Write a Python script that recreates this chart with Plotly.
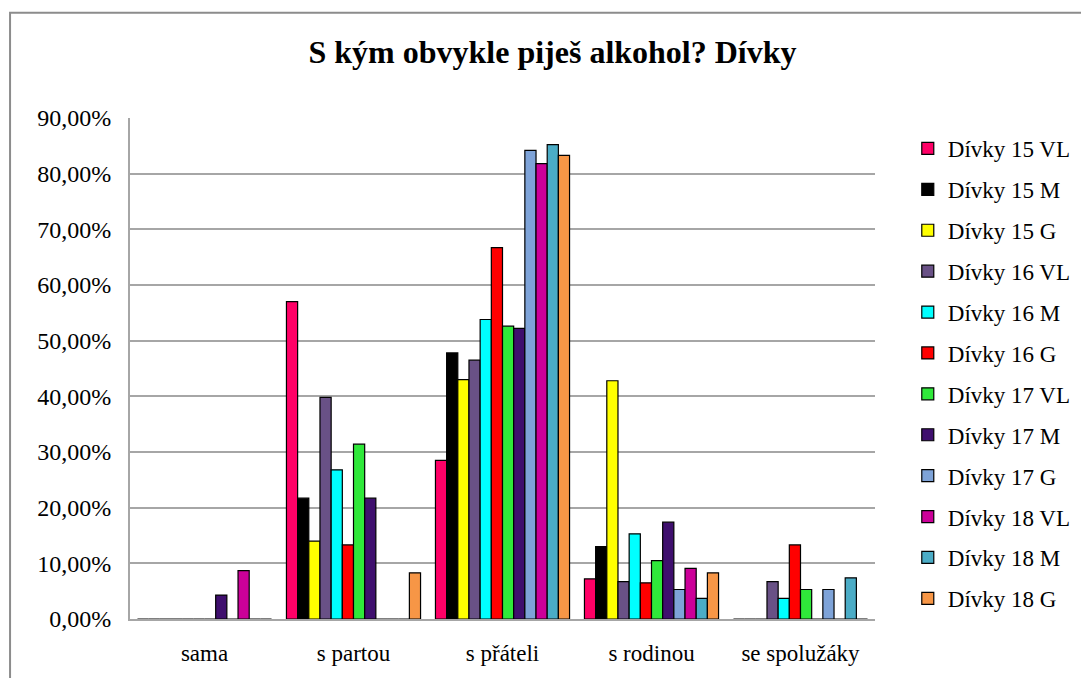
import plotly.graph_objects as go

categories = ["sama", "s partou", "s přáteli", "s rodinou", "se spolužáky"]

series_names = ["Dívky 15 VL", "Dívky 15 M", "Dívky 15 G", "Dívky 16 VL", "Dívky 16 M", "Dívky 16 G",
                "Dívky 17 VL", "Dívky 17 M", "Dívky 17 G", "Dívky 18 VL", "Dívky 18 M", "Dívky 18 G"]

d15_vl = [0.0, 0.570, 0.285, 0.072, 0.0]
d15_m = [0.0, 0.217, 0.478, 0.130, 0.0]
d15_g = [0.0, 0.140, 0.430, 0.428, 0.0]
d16_vl = [0.0, 0.398, 0.465, 0.067, 0.067]
d16_m = [0.0, 0.268, 0.538, 0.153, 0.037]
d16_g = [0.0, 0.133, 0.667, 0.065, 0.133]
d17_vl = [0.0, 0.314, 0.526, 0.105, 0.053]
d17_m = [0.043, 0.217, 0.522, 0.174, 0.0]
d17_g = [0.0, 0.0, 0.842, 0.053, 0.053]
d18_vl = [0.087, 0.0, 0.818, 0.091, 0.0]
d18_m = [0.0, 0.0, 0.852, 0.037, 0.074]
d18_g = [0.0, 0.083, 0.833, 0.083, 0.0]

values = [d15_vl, d15_m, d15_g, d16_vl, d16_m, d16_g, d17_vl, d17_m, d17_g, d18_vl, d18_m, d18_g]

colors = ["#FF0066", "#000000", "#FFFF00", "#695186", "#00FFFF", "#FF0000",
          "#2FE83A", "#3F0F6E", "#7EA3D8", "#CC0099", "#4BACC6", "#F79646"]

y_ticks = [0, 0.1, 0.2, 0.3, 0.4, 0.5, 0.6, 0.7, 0.8, 0.9]

serif = "Liberation Serif, Times New Roman, serif"

fig = go.Figure()
for i, name in enumerate(series_names):
    fig.add_trace(go.Bar(
        x=categories, y=values[i], name=name, legendgroup=name,
        marker=dict(color=colors[i], line=dict(color="#000000", width=1.2)),
    ))

fig.update_layout(
    width=1089, height=678,
    barmode="group", bargap=0.1, bargroupgap=0,
    separators=", ",
    paper_bgcolor="white", plot_bgcolor="white",
    margin=dict(l=122, r=222, t=110, b=67),
    title=dict(text="<b>S kým obvykle piješ alkohol? Dívky</b>", x=0.5, xanchor="center",
               y=0.935, yanchor="middle",
               font=dict(family=serif, size=32, color="#000000")),
    font=dict(family=serif, size=23, color="#000000"),
    legend=dict(x=1.044, xanchor="left", y=0.982, yanchor="top",
                font=dict(family=serif, size=23, color="#000000"),
                tracegroupgap=8, itemwidth=30, maxheight=660, bgcolor="rgba(0,0,0,0)"),
    xaxis=dict(showline=True, linecolor="#A6A6A6", linewidth=2, ticks="",
               ticklabelstandoff=12, tickfont=dict(family=serif, size=23)),
    yaxis=dict(range=[0, 0.9], tickvals=y_ticks, tickformat=".2%",
               showgrid=True, gridcolor="#A6A6A6", gridwidth=2,
               showline=True, linecolor="#A6A6A6", linewidth=2, zeroline=False,
               ticks="", ticklen=0, ticklabelstandoff=12, tickfont=dict(family=serif, size=24)),
    shapes=[dict(type="rect", xref="paper", yref="paper", x0=-0.161, x1=1.35, y0=-0.3, y1=1.21,
                 line=dict(color="#8C8C8C", width=2), fillcolor="rgba(0,0,0,0)", layer="below")],
)

fig.write_html("out.html")
